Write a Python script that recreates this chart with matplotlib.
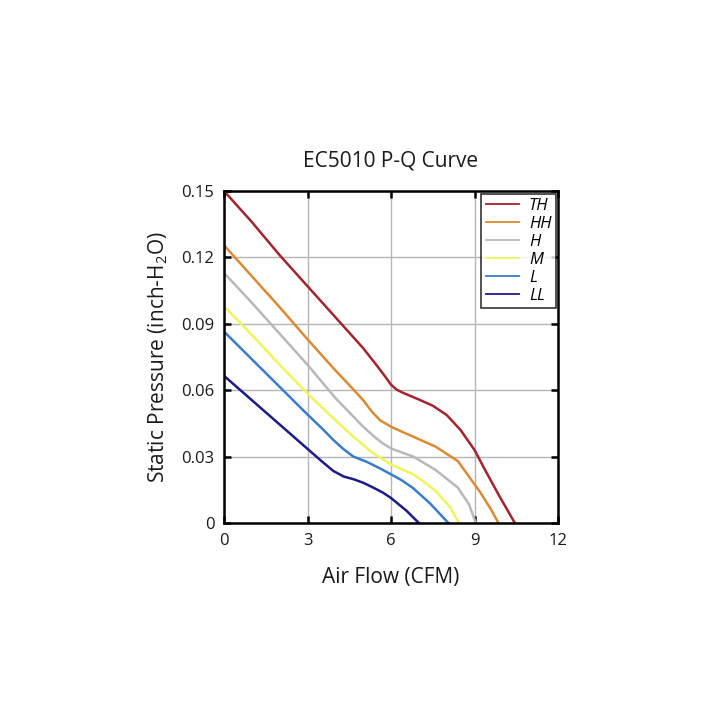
import matplotlib
matplotlib.use("Agg")
import matplotlib.pyplot as plt

plt.rcParams['font.family'] = ['Open Sans', 'DejaVu Sans']
plt.rcParams['mathtext.fontset'] = 'custom'
plt.rcParams['mathtext.rm'] = 'Open Sans'

# Data (Air flow in CFM, static pressure in inch-H2O)
th_x = [0, 1, 2, 3, 4, 4.5, 5, 5.5, 5.8, 6, 6.2, 6.4, 7, 7.5, 8, 8.5, 9, 9.4, 9.9, 10.45]
th_y = [0.150, 0.136, 0.121, 0.107, 0.093, 0.086, 0.079, 0.071, 0.066, 0.0625, 0.0603,
        0.059, 0.0558, 0.053, 0.0488, 0.042, 0.033, 0.0235, 0.012, 0]

hh_x = [0, 1, 2, 3, 4, 4.6, 5, 5.3, 5.6, 6, 6.4, 6.8, 7.6, 8.4, 8.8, 9.2, 9.6, 9.86]
hh_y = [0.1255, 0.1115, 0.0975, 0.083, 0.069, 0.061, 0.0555, 0.0505, 0.0465, 0.0435,
        0.0412, 0.039, 0.0345, 0.028, 0.021, 0.014, 0.006, 0]

h_x = [0, 1, 2, 3, 4, 4.5, 5, 5.4, 5.7, 6, 6.8, 7.6, 8.1, 8.4, 8.8, 9.05]
h_y = [0.113, 0.0995, 0.0855, 0.0715, 0.0565, 0.050, 0.0435, 0.039, 0.036, 0.0337,
       0.030, 0.024, 0.019, 0.016, 0.0085, 0]

m_x = [0, 1, 2, 3, 4, 4.65, 5.36, 6, 6.8, 7.2, 7.6, 8.1, 8.45]
m_y = [0.098, 0.085, 0.0715, 0.0585, 0.0465, 0.039, 0.0315, 0.0265, 0.022,
       0.0185, 0.0145, 0.0075, 0]

l_x = [0, 1, 2, 3, 3.5, 3.93, 4.3, 4.65, 5.12, 5.6, 6, 6.4, 6.8, 7.4, 8.06]
l_y = [0.0865, 0.074, 0.0615, 0.049, 0.0430, 0.0375, 0.0333, 0.030, 0.0277, 0.0247,
       0.022, 0.0192, 0.0157, 0.0089, 0]

ll_x = [0, 1, 2, 3, 3.5, 3.93, 4.3, 4.65, 5.0, 5.36, 5.7, 6, 6.3, 6.56, 7.0]
ll_y = [0.0665, 0.0555, 0.0445, 0.0335, 0.0280, 0.0235, 0.0210, 0.0198, 0.0182,
        0.0160, 0.0138, 0.0113, 0.0082, 0.0055, 0]

series_names = ['TH', 'HH', 'H', 'M', 'L', 'LL']
series_colors = ['#a3232e', '#d98a32', '#b8b8b8', '#eef55a', '#3a7cc8', '#1b1b8a']

x_ticks = [0, 3, 6, 9, 12]
y_ticks = [0, 0.03, 0.06, 0.09, 0.12, 0.15]
y_tick_labels = ['0', '0.03', '0.06', '0.09', '0.12', '0.15']

fig = plt.figure(figsize=(7.2, 7.2), dpi=100)
ax = fig.add_axes([224/720, 1-523/720, (558-224)/720, (523-191)/720])

data = [(th_x, th_y), (hh_x, hh_y), (h_x, h_y), (m_x, m_y), (l_x, l_y), (ll_x, ll_y)]
for (xs, ys), name, col in zip(data, series_names, series_colors):
    ax.plot(xs, ys, color=col, lw=1.8, label=name, solid_joinstyle='round')

ax.set_xlim(0, 12)
ax.set_ylim(0, 0.15)
ax.set_xticks(x_ticks)
ax.set_xticklabels([str(t) for t in x_ticks])
ax.set_yticks(y_ticks)
ax.set_yticklabels(y_tick_labels)
ax.grid(True, color='#b5b5b5', lw=1)
ax.set_axisbelow(True)

for sp in ax.spines.values():
    sp.set_linewidth(1.8)
    sp.set_color('black')

ax.tick_params(direction='in', length=5, width=1.8, top=True, right=True,
               labelsize=12, pad=7, colors='black', labelcolor='#1a1a1a')

ax.set_title('EC5010 P-Q Curve', fontsize=15, pad=18, color='#1a1a1a')
ax.set_xlabel('Air Flow (CFM)', fontsize=15, labelpad=13, color='#1a1a1a')
ax.set_ylabel('Static Pressure (inch-H$_2$O)', fontsize=15, labelpad=8, color='#1a1a1a')

leg = ax.legend(loc='upper right', fontsize=12, frameon=True, fancybox=False,
                borderaxespad=0.15, handlelength=2.0, labelspacing=0.12,
                borderpad=0.25, handletextpad=0.6)
leg.get_frame().set_edgecolor('black')
leg.get_frame().set_linewidth(1.2)
for t in leg.get_texts():
    t.set_fontstyle('italic')
for h in leg.get_lines():
    h.set_linewidth(1.3)

fig.savefig('out.png', dpi=100, facecolor='white')
